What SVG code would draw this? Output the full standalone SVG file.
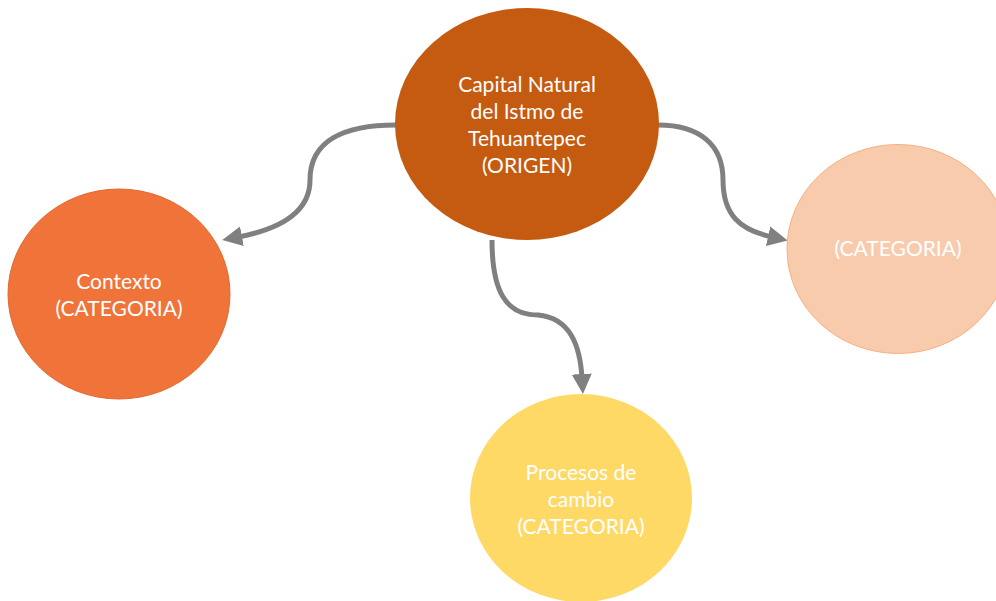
<svg xmlns="http://www.w3.org/2000/svg" width="996" height="601" viewBox="0 0 996 601">
<defs>
<style>
.lbl{font-family:Lato,"Liberation Sans",sans-serif;font-size:21px;fill:#ffffff;text-anchor:middle}
.conn{fill:none;stroke:#808080;stroke-width:5;stroke-linecap:butt}
</style>
<marker id="arr" viewBox="0 0 10 10" refX="2" refY="5" markerWidth="4" markerHeight="4" markerUnits="strokeWidth" orient="auto">
<path d="M0,0 L10,5 L0,10 z" fill="#808080"/>
</marker>
</defs>
<rect width="996" height="601" fill="#ffffff"/>
<g id="connectors">
<path class="conn" d="M396,125 C345,125 310,140 310,180 C310,215 275,230 238,237" marker-end="url(#arr)"/>
<path class="conn" d="M658,125 C700,125 723,145 723,180 C723,215 740,230 772,237" marker-end="url(#arr)"/>
<path class="conn" d="M492,240 C492,290 505,315 538,315 C570,318 580,345 582,378" marker-end="url(#arr)"/>
</g>
<g id="origen">
<ellipse cx="527" cy="124" rx="132" ry="116" fill="#C55A11"/>
<text class="lbl" x="527" y="92">Capital Natural</text>
<text class="lbl" x="527" y="119">del Istmo de</text>
<text class="lbl" x="527" y="146">Tehuantepec</text>
<text class="lbl" x="527" y="173">(ORIGEN)</text>
</g>
<g id="contexto">
<ellipse cx="119" cy="294" rx="111" ry="105" fill="#F0733A" stroke="#E2692F" stroke-width="1"/>
<text class="lbl" x="119" y="289">Contexto</text>
<text class="lbl" x="119" y="316">(CATEGORIA)</text>
</g>
<g id="categoria">
<ellipse cx="898" cy="249" rx="111" ry="104.5" fill="#F8CBAD" stroke="#F4B183" stroke-width="1"/>
<text class="lbl" x="898" y="256">(CATEGORIA)</text>
</g>
<g id="procesos">
<ellipse cx="581" cy="498" rx="111" ry="104" fill="#FFD966"/>
<text class="lbl" x="581" y="480">Procesos de</text>
<text class="lbl" x="581" y="507">cambio</text>
<text class="lbl" x="581" y="534">(CATEGORIA)</text>
</g>
</svg>
